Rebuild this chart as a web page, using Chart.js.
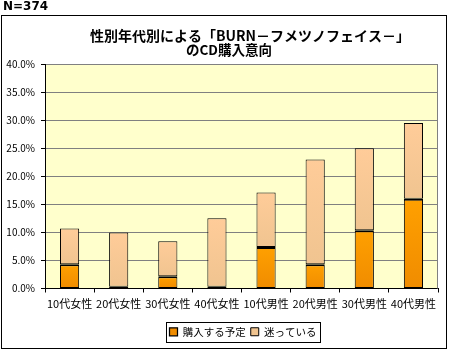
<!DOCTYPE html>
<html>
<head>
<meta charset="utf-8">
<script src="https://cdn.jsdelivr.net/npm/chart.js@4.4.1/dist/chart.umd.min.js"></script>
<style>
  body { margin: 0; background: #fff; }
  #wrap { position: relative; width: 449px; height: 351px; }
  #n { position: absolute; left: 3px; top: -1px; font: bold 12px "DejaVu Sans"; line-height: 14px; }
</style>
</head>
<body>
<div id="wrap">
  <canvas id="mycanvas" width="449" height="351"></canvas>
  <div id="n">N=374</div>
</div>
<script>
var categories = ['10代女性', '20代女性', '30代女性', '40代女性', '10代男性', '20代男性', '30代男性', '40代男性'];
var planToBuy = [4.3, 0.3, 2.2, 0.3, 7.4, 4.3, 10.4, 16.0];
var undecided = [6.4, 9.7, 6.2, 12.2, 9.7, 18.7, 14.6, 13.5];
var titleLine1 = '性別年代別による「BURN－フメツノフェイス－」';
var titleLine2 = 'のCD購入意向';

var jp = '"Noto Sans CJK JP", sans-serif';

// vertical gradient over one bar segment
function segFill(c, base, light, dark, lowArr, highArr) {
  var chart = c.chart;
  if (!chart.chartArea || c.dataIndex === undefined) return base;
  var y = chart.scales.y;
  var i = c.dataIndex;
  var lo = lowArr ? lowArr[i] : 0;
  var hi = lo + highArr[i];
  var g = chart.ctx.createLinearGradient(0, y.getPixelForValue(hi), 0, y.getPixelForValue(lo));
  g.addColorStop(0, light);
  g.addColorStop(1, dark);
  return g;
}

var frame = {
  id: 'frame',
  afterLayout: function(chart) {
    // nudge boxes to where the original has them
    var lg = chart.legend;
    lg.left += 24; lg.right += 24;
    chart.titleBlock.left += 31; chart.titleBlock.right += 31;
    var st = chart.boxes.find(function(b) { return b.options && b.options.text === titleLine2; });
    if (st) { st.left += 10; st.right += 10; }
  },
  beforeDraw: function(chart) {
    var ctx = chart.ctx, a = chart.chartArea;
    ctx.save();
    ctx.fillStyle = '#ffffcc';
    ctx.fillRect(a.left, a.top, a.right - a.left, a.bottom - a.top);
    ctx.strokeStyle = '#000';
    ctx.lineWidth = 1;
    ctx.strokeRect(1.5, 15.5, 445, 333);
    ctx.restore();
  },
  beforeDatasetsDraw: function(chart) {
    var ctx = chart.ctx, a = chart.chartArea;
    ctx.save();
    ctx.strokeStyle = '#808080';
    ctx.beginPath();
    ctx.moveTo(Math.round(a.right) - 0.5, a.top);
    ctx.lineTo(Math.round(a.right) - 0.5, a.bottom);
    ctx.stroke();
    ctx.restore();
  },
  afterDraw: function(chart) {
    var lg = chart.legend;
    if (!lg || !lg.legendHitBoxes.length) return;
    var l = Infinity, r = -Infinity, t = Infinity, b = -Infinity;
    lg.legendHitBoxes.forEach(function(h) {
      l = Math.min(l, h.left); r = Math.max(r, h.left + h.width);
      t = Math.min(t, h.top); b = Math.max(b, h.top + h.height);
    });
    var ctx = chart.ctx;
    ctx.save();
    ctx.strokeStyle = '#000';
    ctx.lineWidth = 1;
    ctx.strokeRect(Math.round(l) - 3.5, Math.round(t) - 4.5, Math.round(r - l) + 7, Math.round(b - t) + 9);
    ctx.restore();
  }
};

var chartdata = {
  labels: categories,
  datasets: [
    {
      label: '購入する予定',
      data: planToBuy,
      backgroundColor: function(c) { return segFill(c, '#ff9900', '#ffa000', '#f08c00', null, planToBuy); },
      borderColor: '#000',
      borderWidth: { top: 2, left: 1, right: 1, bottom: 1 },
      borderSkipped: false
    },
    {
      label: '迷っている',
      data: undecided,
      backgroundColor: function(c) { return segFill(c, '#ffcc99', '#ffcc99', '#f0c490', planToBuy, undecided); },
      borderColor: '#000',
      borderWidth: 1,
      borderSkipped: false
    }
  ]
};

var ctx = document.getElementById('mycanvas');
var barGraph = new Chart(ctx, {
  type: 'bar',
  data: chartdata,
  plugins: [frame],
  options: {
    responsive: false,
    animation: false,
    events: [],
    datasets: { bar: { barPercentage: 0.39, categoryPercentage: 1 } },
    layout: { padding: { left: 0, right: 11, top: 0, bottom: 4 } },
    plugins: {
      title: {
        display: true,
        text: titleLine1,
        color: '#000',
        font: { family: jp, size: 14, weight: 'bold', lineHeight: 1 },
        padding: { top: 29, bottom: 0 }
      },
      subtitle: {
        display: true,
        text: titleLine2,
        color: '#000',
        font: { family: jp, size: 13.5, weight: 'bold', lineHeight: 1 },
        padding: { top: 0, bottom: 7.5 }
      },
      legend: {
        position: 'bottom',
        labels: {
          color: '#000',
          font: { family: jp, size: 10.5 },
          boxWidth: 8,
          boxHeight: 8,
          padding: 5
        }
      },
      tooltip: { enabled: false }
    },
    scales: {
      x: {
        stacked: true,
        grid: { display: true, drawOnChartArea: false, offset: true, color: '#000', tickLength: 4 },
        border: { color: '#000' },
        ticks: { color: '#000', font: { family: jp, size: 11 }, padding: 5, maxRotation: 0, autoSkip: false },
        afterFit: function(s) { s.height = 33; }
      },
      y: {
        stacked: true,
        min: 0,
        max: 40,
        grid: { color: '#808080', tickColor: '#000', tickLength: 4 },
        border: { color: '#000' },
        ticks: {
          stepSize: 5,
          color: '#000',
          font: { family: jp, size: 10 },
          padding: 6,
          callback: function(v) { return v.toFixed(1) + '%'; }
        },
        afterFit: function(s) { s.width = 45; }
      }
    }
  }
});
</script>
</body>
</html>
